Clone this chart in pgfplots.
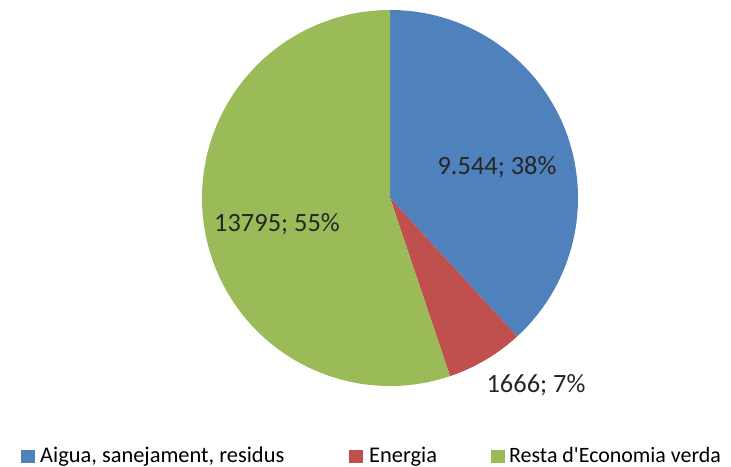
\documentclass[border=0pt]{standalone}
\usepackage{fontspec}
\setmainfont{Carlito}[Ligatures=TeXOff]
\usepackage{pgfplots}
\usepackage{pgfplotstable}
\pgfplotsset{compat=1.18}

\definecolor{cblue}{HTML}{4F81BD}
\definecolor{cred}{HTML}{C0504D}
\definecolor{cgreen}{HTML}{9BBB59}

% valors del grafic
\pgfplotstableread{
value
9544
1666
13795
}\piedata

\pgfplotstablegetelem{0}{value}\of\piedata \let\vA\pgfplotsretval
\pgfplotstablegetelem{1}{value}\of\piedata \let\vB\pgfplotsretval
\pgfplotstablegetelem{2}{value}\of\piedata \let\vC\pgfplotsretval
% total in thousands, to keep pgfmath in range
\pgfmathsetmacro\tot{\vA/1000+\vB/1000+\vC/1000}
\pgfmathsetmacro\angB{90-0.36*\vA/\tot}
\pgfmathsetmacro\angC{\angB-0.36*\vB/\tot}

\begin{document}
\begin{tikzpicture}
  \begin{axis}[
      width=731bp, height=467bp,
      scale only axis,
      xmin=0, xmax=731, ymin=0, ymax=467,
      hide axis,
      clip=false
    ]
    \path (axis cs:0,0) rectangle (axis cs:731,467);

    % porcions
    \fill[cblue] (axis cs:390,269) -- ++(90:188bp)
      arc[start angle=90, end angle=\angB, radius=188bp] -- cycle;
    \fill[cred] (axis cs:390,269) -- ++(\angB:188bp)
      arc[start angle=\angB, end angle=\angC, radius=188bp] -- cycle;
    \fill[cgreen] (axis cs:390,269) -- ++(\angC:188bp)
      arc[start angle=\angC, end angle=-270, radius=188bp] -- cycle;

    % etiquetes de dades
    \node[anchor=base, font=\fontsize{26.5}{31}\selectfont, text=black!85]
      at (axis cs:497,292) {9.544; 38\%};
    \node[anchor=base, font=\fontsize{26.5}{31}\selectfont, text=black!85]
      at (axis cs:277,235) {13795; 55\%};
    \node[anchor=base, font=\fontsize{26.5}{31}\selectfont, text=black!85]
      at (axis cs:536,74) {1666; 7\%};

    % llegenda
    \fill[cblue] (axis cs:21,4) rectangle (axis cs:35,17);
    \node[anchor=base west, inner sep=0pt, font=\fontsize{22.5}{27}\selectfont]
      at (axis cs:40,5) {Aigua, sanejament, residus};
    \fill[cred] (axis cs:349,4) rectangle (axis cs:363,17);
    \node[anchor=base west, inner sep=0pt, font=\fontsize{22.5}{27}\selectfont]
      at (axis cs:369,5) {Energia};
    \fill[cgreen] (axis cs:491,4) rectangle (axis cs:505,17);
    \node[anchor=base west, inner sep=0pt, font=\fontsize{22}{27}\selectfont]
      at (axis cs:509,5) {Resta d'Economia verda};
  \end{axis}
\end{tikzpicture}
\end{document}
